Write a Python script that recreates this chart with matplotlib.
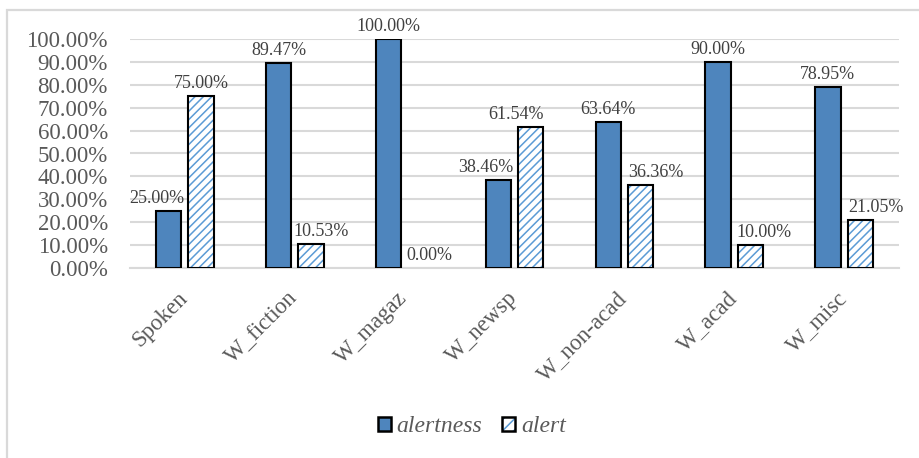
import matplotlib
matplotlib.use("Agg")
import matplotlib.pyplot as plt
import numpy as np
from matplotlib.patches import Patch, Rectangle
from matplotlib.legend_handler import HandlerTuple
from matplotlib.transforms import ScaledTranslation
from matplotlib.ticker import FuncFormatter

plt.rcParams["font.family"] = ["Liberation Serif", "DejaVu Serif"]
plt.rcParams["hatch.linewidth"] = 1.1

categories = ["Spoken", "W_fiction", "W_magaz", "W_newsp", "W_non-acad", "W_acad", "W_misc"]
alertness = [25.00, 89.47, 100.00, 38.46, 63.64, 90.00, 78.95]
alert = [75.00, 10.53, 0.00, 61.54, 36.36, 10.00, 21.05]
y_ticks = [0, 10, 20, 30, 40, 50, 60, 70, 80, 90, 100]

# horizontal nudges (pixels) for the value labels, keeping neighbours apart
nudge_alertness = [-12, 0, 0, -13, 0, 0, 0]
nudge_alert = [0, 10, 9, -15, 15, 14, 16]

W, H, DPI = 920, 458, 100
fig = plt.figure(figsize=(W / DPI, H / DPI), dpi=DPI)
ax = fig.add_axes([130 / W, 1 - 268 / H, (899 - 130) / W, (268 - 39) / H])

# outer chart frame
fig.patches.append(Rectangle((7 / W, -0.1), 1.2, 1 - 10 / H + 0.1,
                             transform=fig.transFigure, fill=False,
                             edgecolor="#d9d9d9", linewidth=1.6, zorder=0))

x = np.arange(len(categories))
bw = 0.23
off = 0.147
blue = "#4e85bd"
hatch_blue = "#5b9bd5"

ax.bar(x - off, alertness, bw, color=blue, edgecolor="black", linewidth=1.5, zorder=3)
ax.bar(x + off, alert, bw, color="white", edgecolor=hatch_blue, hatch="////",
       linewidth=0, zorder=3)
outline = ax.bar(x + off, alert, bw, fill=False, edgecolor="black", linewidth=1.5, zorder=4)
for rect, v in zip(outline, alert):
    if v == 0:
        rect.set_visible(False)

lbl_color = "#404040"
for i in range(len(categories)):
    ax.annotate(f"{alertness[i]:.2f}%", (x[i] - off, alertness[i]),
                xytext=(nudge_alertness[i] * 0.72, 3), textcoords="offset points",
                ha="center", va="bottom", fontsize=13, color=lbl_color, zorder=5)
    ax.annotate(f"{alert[i]:.2f}%", (x[i] + off, alert[i]),
                xytext=(nudge_alert[i] * 0.72, 3), textcoords="offset points",
                ha="center", va="bottom", fontsize=13, color=lbl_color, zorder=5)

ax.set_xlim(-0.5, len(categories) - 0.5)
ax.set_ylim(0, 100)
ax.set_yticks(y_ticks)
ax.yaxis.set_major_formatter(FuncFormatter(lambda v, p: f"{v:.2f}%"))
ax.tick_params(axis="y", length=0, pad=16, labelsize=16.5, labelcolor="#595959")
ax.grid(axis="y", color="#d9d9d9", linewidth=1.5, zorder=0)
ax.set_axisbelow(True)
for s in ["top", "right", "left"]:
    ax.spines[s].set_visible(False)
ax.spines["bottom"].set_color("#d9d9d9")
ax.spines["bottom"].set_linewidth(1.5)

ax.set_xticks(x)
ax.set_xticklabels(categories, rotation=45, ha="right", fontsize=16.5, color="#595959")
ax.tick_params(axis="x", length=0, pad=14)
shift = ScaledTranslation(7 / DPI, 0, fig.dpi_scale_trans)
for t in ax.get_xticklabels():
    t.set_transform(t.get_transform() + shift)

h1 = Patch(facecolor=blue, edgecolor="black", linewidth=1.8)
h2a = Patch(facecolor="white", edgecolor=hatch_blue, hatch="///", linewidth=0)
h2b = Patch(fill=False, edgecolor="black", linewidth=1.8)
leg = fig.legend([h1, (h2a, h2b)], ["alertness", "alert"],
                 handler_map={tuple: HandlerTuple(ndivide=1)},
                 loc="center", bbox_to_anchor=(472 / W, 1 - 427 / H), ncol=2,
                 frameon=False, handlelength=0.55, handleheight=0.55,
                 handletextpad=0.25, columnspacing=0.85,
                 prop={"size": 17, "style": "italic"})
for t in leg.get_texts():
    t.set_color("#595959")

fig.savefig("out.png", dpi=DPI)
